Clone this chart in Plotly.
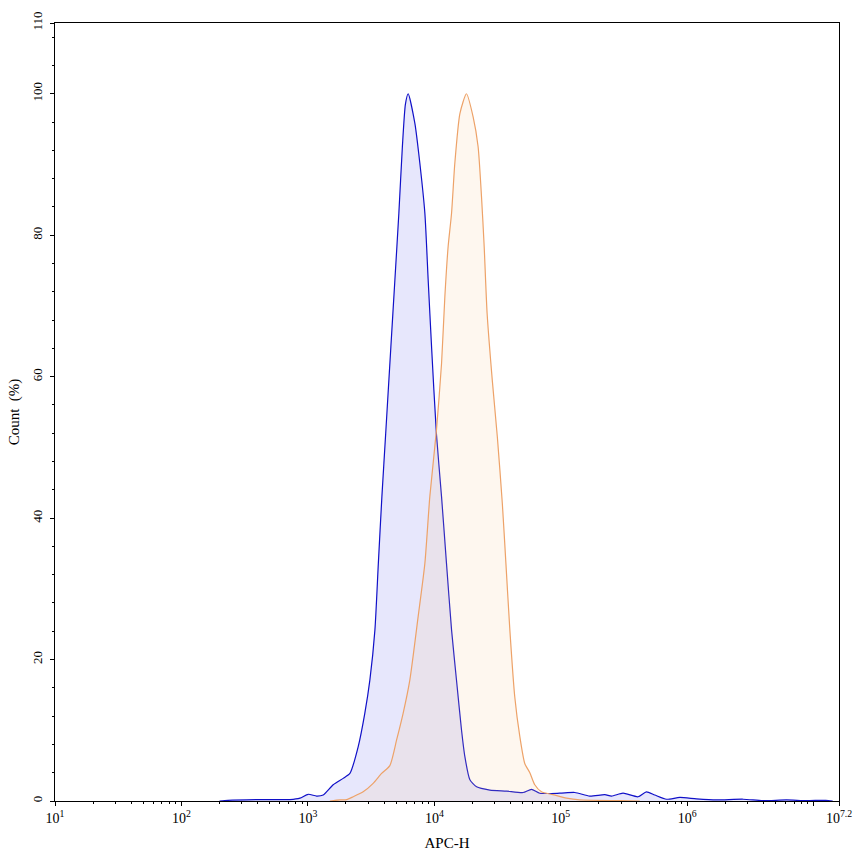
import plotly.graph_objects as go

# ---- data (APC-H intensity, Count %) ----
blue_apc = [200, 233, 417, 721, 865, 1005, 1172, 1321, 1585, 1901, 2148, 2500, 2818, 3090,
            3388, 3606, 3846, 4140, 4529, 4875, 5240, 5585, 5902, 6209, 7015, 7674, 8414,
            8933, 9506, 10375, 11402, 12474, 13677, 14962, 16406, 17418, 19099, 21577,
            27479, 37239, 50350, 58614, 68234, 98175, 129122, 169434, 222844, 251768,
            310456, 408319, 475335, 553341, 685488, 872971, 1183041, 1702159, 2760773,
            3953666, 6081350, 8749896, 12445146, 14125375]
blue_count = [0, 0.1, 0.2, 0.2, 0.4, 0.95, 0.7, 0.85, 2.3, 3.2, 3.9, 7.7, 12.4, 17.1,
              24.2, 33.6, 43, 52.5, 64.2, 73.7, 83.1, 92.5, 98.5, 100, 95.8, 90.2, 83.1,
              73.7, 64.2, 52, 43, 33.6, 24.2, 17.1, 10, 6.3, 3.0, 2.0,
              1.55, 1.4, 1.2, 1.65, 1.1, 1.1, 1.2, 0.7, 0.9, 0.7,
              1.1, 0.6, 1.3, 0.85, 0.25, 0.5, 0.3, 0.15, 0.25,
              0.05, 0.15, 0.05, 0.1, 0]

orange_apc = [1493, 1791, 2023, 2280, 2735, 3281, 3828, 4446, 5023, 5662, 6397, 7447,
              8414, 9204, 10399, 11402, 12106, 12853, 13677, 14521, 15922, 17947, 20277,
              22182, 23605, 24774, 26122, 28710, 31477, 34500, 36800, 39537, 43251,
              47424, 51880, 56885, 62230, 70307, 86497, 110917, 141254, 292415, 421697]
orange_count = [0, 0.15, 0.2, 0.6, 1.3, 2.5, 3.9, 5.0, 8.6, 12.4, 17.1, 26.1,
                33.6, 43, 52.5, 61.9, 71.3, 78.4, 83.1, 90.2, 97.2, 100, 96.7,
                92.5, 85.4, 78.4, 69, 59.5, 51.5, 42, 33.6, 24.2, 14.7,
                9.1, 5.3, 4.0, 2.3, 1.3, 0.9, 0.4, 0.15, 0.05, 0]

x_tick_vals = [1e1, 1e2, 1e3, 1e4, 1e5, 1e6, 1e7, 10 ** 7.2]
x_tick_text = ["10<sup>1</sup>", "10<sup>2</sup>", "10<sup>3</sup>", "10<sup>4</sup>",
               "10<sup>5</sup>", "10<sup>6</sup>", "", "10<sup>7.2</sup>"]
x_minor_vals = [m * 10 ** k for k in range(1, 7) for m in range(2, 10)]
y_tick_vals = [0, 20, 40, 60, 80, 100, 110]
y_minor_vals = [v for v in range(0, 112, 4) if v % 20 != 0]

FONT = "Liberation Serif"

fig = go.Figure()
fig.add_trace(go.Scatter(
    x=blue_apc, y=blue_count, mode="lines", fill="tozeroy",
    line=dict(color="#1010c8", width=1.2, shape="spline", smoothing=0.6),
    fillcolor="rgba(215,215,250,0.6)", showlegend=False))
fig.add_trace(go.Scatter(
    x=orange_apc, y=orange_count, mode="lines", fill="tozeroy",
    line=dict(color="#eda268", width=1.2, shape="spline", smoothing=0.6),
    fillcolor="rgba(245,200,150,0.15)", showlegend=False))

fig.update_layout(
    width=853, height=856,
    margin=dict(l=55, r=14, t=23, b=55, autoexpand=False),
    paper_bgcolor="white", plot_bgcolor="white",
    font=dict(family=FONT, size=13, color="black"),
    xaxis=dict(
        type="log", range=[1, 7.2], automargin=False,
        tickmode="array", tickvals=x_tick_vals, ticktext=x_tick_text,
        ticks="outside", ticklen=4, tickwidth=1, tickcolor="black",
        tickfont=dict(family=FONT, size=14),
        minor=dict(tickmode="array", tickvals=x_minor_vals, ticks="outside",
                   ticklen=2, tickcolor="black", showgrid=False),
        showline=True, linecolor="black", linewidth=1, mirror=True,
        showgrid=False, zeroline=False,
        title=dict(text="APC-H", font=dict(family=FONT, size=15), standoff=12),
    ),
    yaxis=dict(
        range=[0, 110], automargin=False,
        tickmode="array", tickvals=y_tick_vals,
        ticks="outside", ticklen=4, tickwidth=1, tickcolor="black",
        tickangle=-90, tickfont=dict(family=FONT, size=13), ticklabelstandoff=3,
        minor=dict(tickmode="array", tickvals=y_minor_vals, ticks="outside",
                   ticklen=2, tickcolor="black", showgrid=False),
        showline=True, linecolor="black", linewidth=1, mirror=True,
        showgrid=False, zeroline=False,
        title=dict(text="Count  (%)", font=dict(family=FONT, size=15), standoff=6),
    ),
)

fig.write_html("out.html")
